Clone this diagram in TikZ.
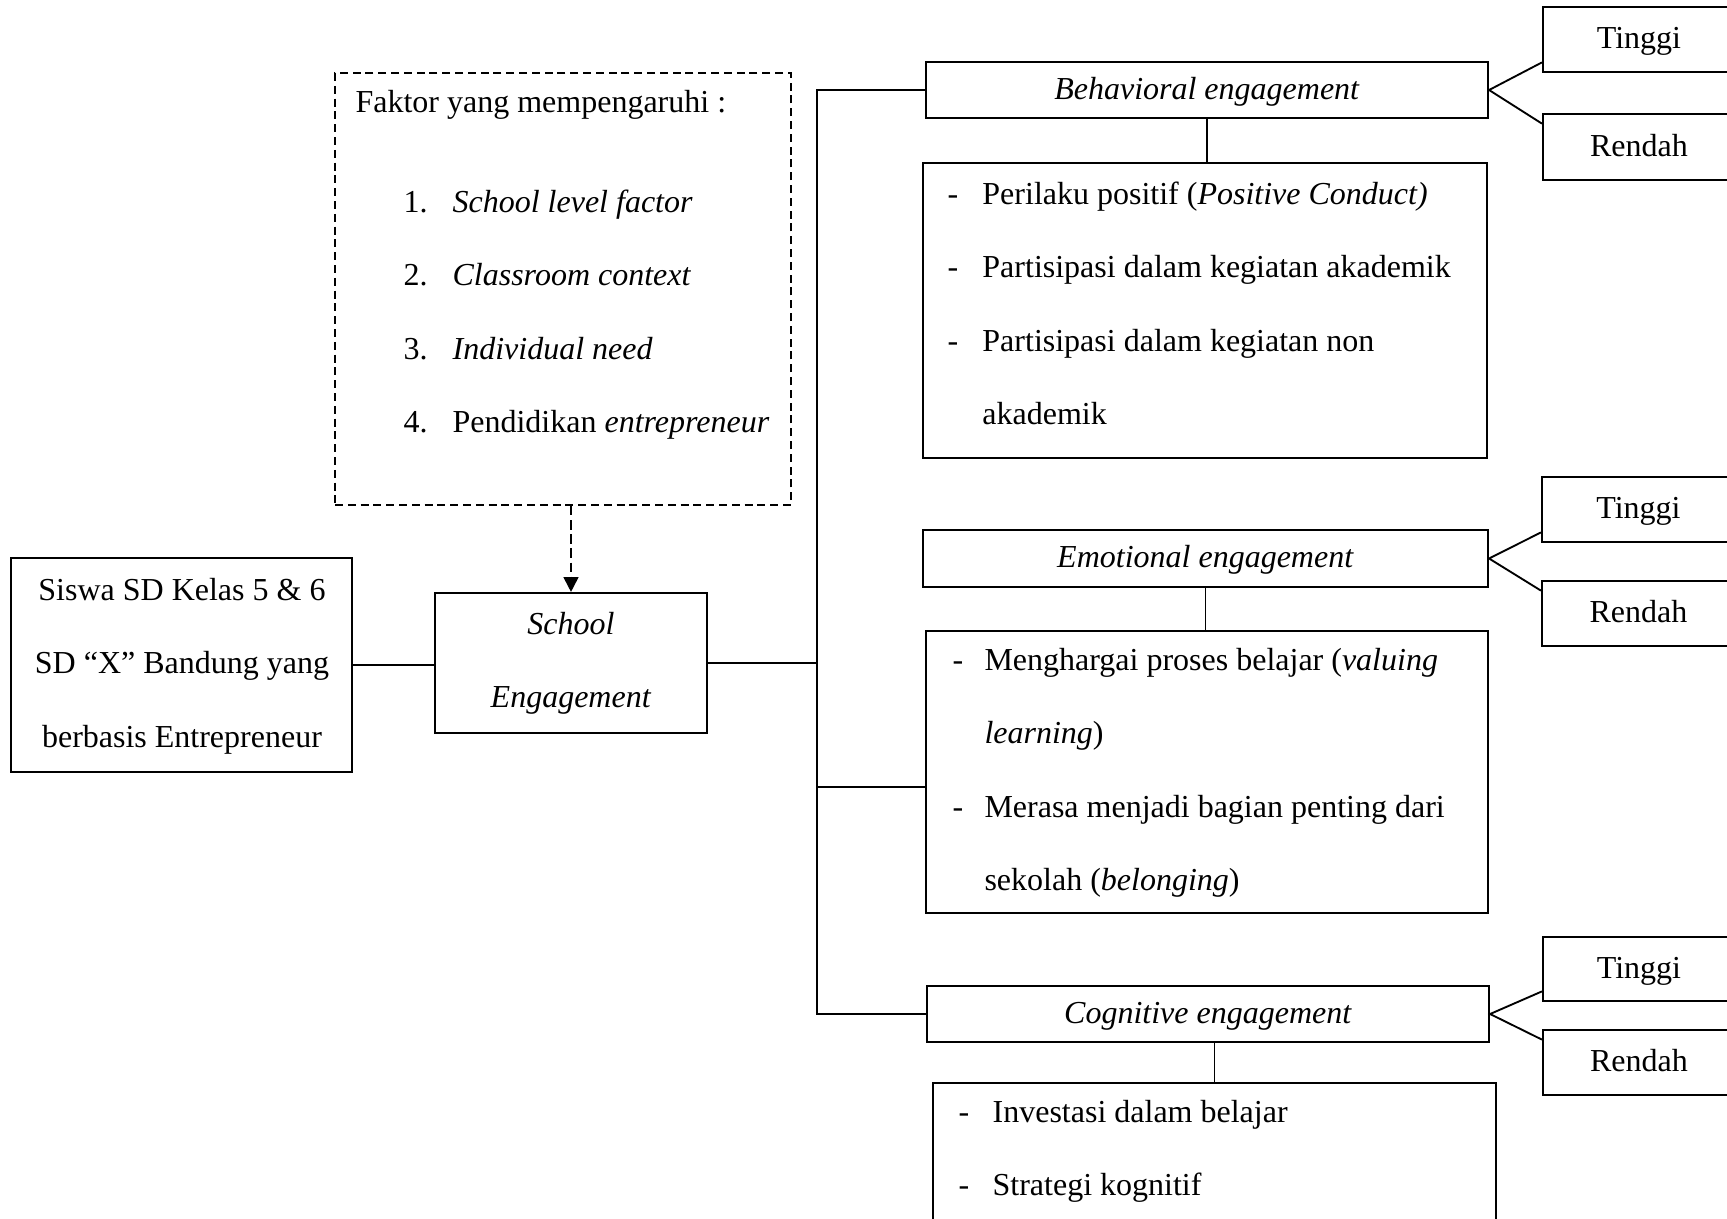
\documentclass[tikz,border=0pt]{standalone}
\usepackage{fontspec}
\setmainfont{Liberation Serif}
\usetikzlibrary{arrows.meta,fit}

\tikzset{
  box/.style={draw, line width=0.8pt, inner sep=0pt},
  dashbox/.style={draw, line width=0.8pt, inner sep=0pt, dash pattern=on 3pt off 1.8pt},
  link/.style={line width=0.7pt},
  thinlink/.style={line width=0.5pt},
  txt/.style={inner sep=0pt, anchor=base west},
  mid/.style={inner sep=0pt, text height=0.68em, text depth=0.22em, yshift=-1.1pt},
}

\begin{document}
\begin{tikzpicture}[x=0.375pt, y=-0.375pt, font=\fontsize{12}{27.6}\selectfont]
  \useasboundingbox (0,0) rectangle (1727,1219);
  \clip (0,0) rectangle (1727,1219);
  \coordinate (trunk) at (817,0);
  \coordinate (emobranch) at (817,787);

  % left side
  \node[box, fit={(11,558) (352,772)}] (siswa) {};
  \node[txt, anchor=base] (siswatxt) at (182,600)
       {\begin{tabular}[t]{@{}c@{}}Siswa SD Kelas 5 \& 6\\SD “X” Bandung yang\\berbasis Entrepreneur\end{tabular}};
  \node[box, fit={(435,593) (707,733)}] (school) {};
  \node[txt, anchor=base] (schooltxt) at (571,634)
       {\begin{tabular}[t]{@{}c@{}}\textit{School}\\\textit{Engagement}\end{tabular}};
  \node[dashbox, fit={(335,73) (791,505)}] (factor) {};
  \node[txt] (factortitle) at (355,112) {Faktor yang mempengaruhi :};
  \node[txt] (factorlist) at (403,212)
       {\begin{tabular}[t]{@{}p{18.4pt}@{}l@{}}1.&\textit{School level factor}\\2.&\textit{Classroom context}\\
        3.&\textit{Individual need}\\4.&Pendidikan \textit{entrepreneur}\end{tabular}};

  % engagement headers
  \node[box, fit={(926,62) (1488,118)}] (beh) {};
  \node[mid] (behtxt) at (beh) {\textit{Behavioral engagement}};
  \node[box, fit={(923,530) (1488,587)}] (emo) {};
  \node[mid] (emotxt) at (emo) {\textit{Emotional engagement}};
  \node[box, fit={(927,986) (1489,1042)}] (cog) {};
  \node[mid] (cogtxt) at (cog) {\textit{Cognitive engagement}};

  % indicator lists
  \node[box, fit={(923,163) (1487,458)}] (behlist) {};
  \node[txt] (behitems) at (947,204)
       {\begin{tabular}[t]{@{}p{13.1pt}@{}l@{}}-&Perilaku positif (\textit{Positive Conduct)}\\-&Partisipasi dalam kegiatan akademik\\
        -&Partisipasi dalam kegiatan non\\&akademik\end{tabular}};
  \node[box, fit={(926,631) (1488,913)}] (emolist) {};
  \node[txt] (emoitems) at (952,670)
       {\begin{tabular}[t]{@{}p{12pt}@{}l@{}}-&Menghargai proses belajar (\textit{valuing}\\&\textit{learning})\\
        -&Merasa menjadi bagian penting dari\\&sekolah (\textit{belonging})\end{tabular}};
  \node[box, fit={(933,1083) (1496,1300)}] (coglist) {};
  \node[txt] (cogitems) at (958,1122)
       {\begin{tabular}[t]{@{}p{12.8pt}@{}l@{}}-&Investasi dalam belajar\\-&Strategi kognitif\end{tabular}};

  % levels
  \node[box, fit={(1543,7) (1735,72)}] (t1) {};
  \node[mid] at (t1) {Tinggi};
  \node[box, fit={(1543,114) (1735,180)}] (r1) {};
  \node[mid] at (r1) {Rendah};
  \node[box, fit={(1542,477) (1735,542)}] (t2) {};
  \node[mid] at (t2) {Tinggi};
  \node[box, fit={(1542,581) (1735,646)}] (r2) {};
  \node[mid] at (r2) {Rendah};
  \node[box, fit={(1543,937) (1735,1001)}] (t3) {};
  \node[mid] at (t3) {Tinggi};
  \node[box, fit={(1543,1030) (1735,1095)}] (r3) {};
  \node[mid] at (r3) {Rendah};

  % connectors
  \draw[link] (siswa.east) -- (siswa.east -| school.west);
  \draw[link] (school.east) -- (school.east -| trunk);
  \draw[link] (beh.west) -| (trunk |- cog.west) -- (cog.west);
  \draw[link] (emobranch) -- (emobranch -| emolist.west);
  \draw[link, dash pattern=on 3.5pt off 1.8pt, -{Triangle[length=5.6pt,width=5.6pt]}]
       (school.north |- factor.south) -- (school.north);
  \draw[thinlink] (beh.south) -- (beh.south |- behlist.north);
  \draw[thinlink] (emo.south) -- (emo.south |- emolist.north);
  \draw[thinlink] (coglist.north) -- (coglist.north |- cog.south);
  \draw[link] ([yshift=4pt]t1.south west) -- (beh.east) -- ([yshift=-4pt]r1.north west);
  \draw[link] ([yshift=4pt]t2.south west) -- (emo.east) -- ([yshift=-4pt]r2.north west);
  \draw[link] ([yshift=4pt]t3.south west) -- (cog.east) -- ([yshift=-4pt]r3.north west);
\end{tikzpicture}
\end{document}
